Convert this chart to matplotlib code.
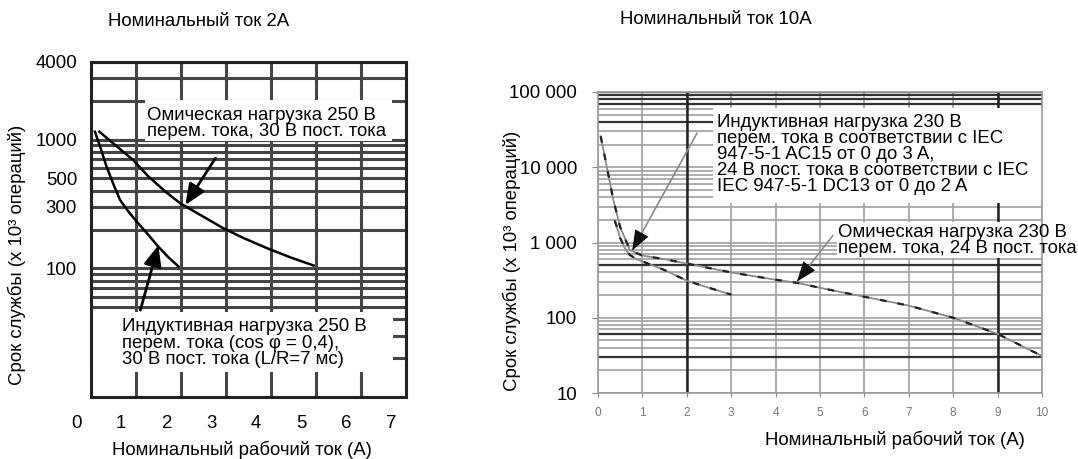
import numpy as np
import matplotlib
matplotlib.use("Agg")
import matplotlib.pyplot as plt
import matplotlib.transforms as mtransforms
from matplotlib.patches import Rectangle
from matplotlib.ticker import LogLocator, NullFormatter

plt.rcParams['font.family'] = ['Liberation Sans', 'DejaVu Sans']
FS = 13.4

# --- Номинальный ток 2A (левый график) ---
ind2_x = [0.42, 0.55, 0.68, 0.83, 0.98, 1.15, 1.35, 1.6, 1.83, 2.05, 2.28]
ind2_y = [1150, 850, 614, 450, 339, 280, 230, 183, 147, 122, 103]
ohm2_x = [0.52, 0.8, 1.0, 1.27, 1.6, 2.0, 2.32, 2.8, 3.28, 3.75, 4.25, 4.75, 5.28]
ohm2_y = [1150, 950, 830, 693, 520, 390, 319, 255, 204, 170, 143, 122, 105]
x2_ticks = [1, 2, 3, 4, 5, 6, 7]
x2_grid = [1/3 + k for k in range(8)]
y2_ticks = [100, 300, 500, 1000, 4000]
y2_labels = ['100', '300', '500', '1000', '4000']

# --- Номинальный ток 10A (правый график) ---
ohm10_x = [0.06, 0.2, 0.34, 0.5, 0.72, 1.0, 1.5, 2, 3, 4, 4.5, 5, 6, 7, 8, 9, 10]
ohm10_y = [25900, 10000, 3800, 1600, 790, 670, 600, 525, 400, 320, 290, 250, 190, 145, 100, 61, 31]
ac15_x = [0.38, 0.5, 0.6, 0.72, 0.85, 1.0, 1.5, 2.0, 2.5, 3.0]
ac15_y = [1950, 1150, 850, 680, 610, 560, 430, 311, 250, 203]
x10_ticks = list(range(11))
y10_ticks = [10, 100, 1000, 10000, 100000]
y10_labels = ['10', '100', '1 000', '10 000', '100 000']
dark_y10 = [30, 60, 500, 40000, 70000, 80000, 90000, 100000]
dark_x10 = [2, 9]

ylabel = 'Срок службы (x 10³ операций)'
xlabel = 'Номинальный рабочий ток (A)'

fig = plt.figure(figsize=(10.78, 4.59), dpi=100)
ax1 = fig.add_axes([91/1078, 62/459, 315/1078, 335/459])
ax2 = fig.add_axes([598/1078, 66/459, 444/1078, 301/459])

# левый
ax1.set_yscale('log')
ax1.set_xlim(1/3, 22/3)
ax1.set_ylim(10, 4000)
ax1.set_xticks(x2_ticks)
ax1.set_xticks(x2_grid, minor=True)
ax1.set_yticks(y2_ticks, labels=y2_labels)
ax1.yaxis.set_minor_locator(LogLocator(base=10, subs=np.arange(1, 10), numticks=20))
ax1.yaxis.set_minor_formatter(NullFormatter())
ax1.yaxis.remove_overlapping_locs = False
ax1.xaxis.grid(True, which='minor', color='#454545', lw=2.2)
ax1.yaxis.grid(True, which='both', color='#454545', lw=2.2)
ax1.tick_params(which='both', length=0, labelsize=FS)
ax1.tick_params(axis='y', pad=10)
ax1.tick_params(axis='x', pad=13)
for s in ax1.spines.values():
    s.set_linewidth(2.2)
    s.set_color('#222222')

tr = mtransforms.blended_transform_factory(ax1.transData, ax1.transAxes)
tr = mtransforms.offset_copy(tr, fig=fig, y=-13, units='points')
ax1.text(0, 0, '0', transform=tr, ha='center', va='top', fontsize=FS, clip_on=False)

ax1.plot(ind2_x, ind2_y, color='black', lw=1.8, zorder=3)
ax1.plot(ohm2_x, ohm2_y, color='black', lw=1.8, zorder=3)

ax1.add_patch(Rectangle((0.171, 0.764), 0.785, 0.123, transform=ax1.transAxes,
                        fc='white', ec='none', zorder=2.2))
ax1.add_patch(Rectangle((0.006, 0.075), 0.953, 0.179, transform=ax1.transAxes,
                        fc='white', ec='none', zorder=2.2))
ax1.text(0.178, 0.816, 'Омическая нагрузка 250 В\nперем. тока, 30 В пост. тока',
         transform=ax1.transAxes, ha='left', va='center', fontsize=FS,
         linespacing=0.95, zorder=4)
ax1.text(0.098, 0.161, 'Индуктивная нагрузка 250 В\nперем. тока (cos φ = 0,4),\n30 В пост. тока (L/R=7 мс)',
         transform=ax1.transAxes, ha='left', va='center', fontsize=FS,
         linespacing=0.95, zorder=4)
arr = dict(arrowstyle='-|>,head_length=0.7,head_width=0.3', color='black', lw=2,
           mutation_scale=18, shrinkA=0, shrinkB=0)
ax1.annotate('', xy=(2.43, 310), xytext=(3.10, 718), arrowprops=arr, zorder=5)
ax1.annotate('', xy=(1.83, 151), xytext=(1.43, 47.3), arrowprops=arr, zorder=5)

ax1.set_xlabel(xlabel, fontsize=FS)
ax1.xaxis.set_label_coords((242-91)/315, (397-450)/335)
ax1.xaxis.label.set_va('center')
ax1.set_ylabel(ylabel, fontsize=FS)
ax1.yaxis.set_label_coords(-0.235, 0.424)
ax1.yaxis.label.set_va('center')
fig.text(199/1078, 1 - 22/459, 'Номинальный ток 2A', ha='center', va='center', fontsize=FS)

# правый
ax2.set_yscale('log')
ax2.set_xlim(0, 10)
ax2.set_ylim(10, 100000)
ax2.set_xticks(x10_ticks)
ax2.set_yticks(y10_ticks, labels=y10_labels)
ax2.yaxis.set_minor_locator(LogLocator(base=10, subs=np.arange(2, 10), numticks=20))
ax2.yaxis.set_minor_formatter(NullFormatter())
ax2.grid(True, which='both', color='#a0a0a0', lw=1.2)
for v in dark_y10:
    ax2.axhline(v, color='#333333', lw=1.6, zorder=1.8)
for v in dark_x10:
    ax2.axvline(v, color='#222222', lw=1.8, zorder=1.8)
ax2.tick_params(axis='y', which='major', length=4, color='#888888', pad=11, labelsize=FS)
ax2.tick_params(axis='y', which='minor', length=0)
ax2.tick_params(axis='x', length=3, color='#888888', pad=7, labelsize=8.5, labelcolor='#777777')
for s in ax2.spines.values():
    s.set_linewidth(1.2)
    s.set_color('#999999')

for xs, ys in [(ohm10_x, ohm10_y), (ac15_x, ac15_y)]:
    ax2.plot(xs, ys, color='#8a8a8a', lw=1.3, zorder=3)
    ax2.plot(xs, ys, color='#222222', lw=1.6, dashes=(3, 5), zorder=3)

ax2.add_patch(Rectangle((0.259, 0.631), 0.741, 0.316, transform=ax2.transAxes,
                        fc='white', ec='none', zorder=2.2))
ax2.add_patch(Rectangle((0.538, 0.449), 0.536, 0.119, transform=ax2.transAxes,
                        fc='white', ec='none', zorder=2.2, clip_on=False))
ax2.text(0.268, 0.791,
         'Индуктивная нагрузка 230 В\nперем. тока в соответствии с IEC\n947-5-1 AC15 от 0 до 3 A,\n'
         '24 В пост. тока в соответствии с IEC\nIEC 947-5-1 DC13 от 0 до 2 A',
         transform=ax2.transAxes, ha='left', va='center', fontsize=FS,
         linespacing=0.92, zorder=4)
ax2.text(0.541, 0.508, 'Омическая нагрузка 230 В\nперем. тока, 24 В пост. тока',
         transform=ax2.transAxes, ha='left', va='center', fontsize=FS,
         linespacing=0.92, zorder=4, clip_on=False)

shaft = dict(arrowstyle='-', color='#8a8a8a', lw=1.2, shrinkA=0, shrinkB=0)
head = dict(arrowstyle='-|>,head_length=0.8,head_width=0.3', color='#111111', lw=0,
            mutation_scale=18, shrinkA=0, shrinkB=0)
for tip, start in [((0.77, 782), (2.23, 28400)), ((4.48, 302), (5.29, 1240))]:
    ax2.annotate('', xy=tip, xytext=start, arrowprops=shaft, zorder=3.5)
    ax2.annotate('', xy=tip, xytext=start, arrowprops=head, zorder=3.6)

ax2.set_xlabel(xlabel, fontsize=FS)
ax2.xaxis.set_label_coords((895-598)/444, (393-440)/301)
ax2.xaxis.label.set_va('center')
ax2.set_ylabel(ylabel, fontsize=FS)
ax2.yaxis.set_label_coords(-0.194, 0.44)
ax2.yaxis.label.set_va('center')
fig.text(716/1078, 1 - 20/459, 'Номинальный ток 10A', ha='center', va='center', fontsize=FS)

fig.savefig('out.png', dpi=100)
